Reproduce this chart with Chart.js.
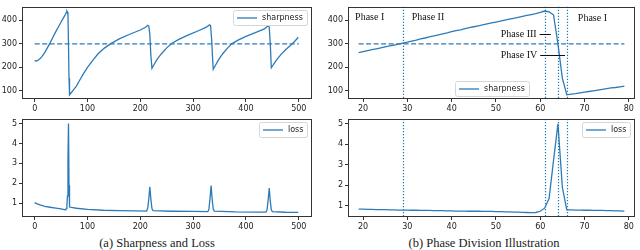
<!DOCTYPE html>
<html>
<head>
<meta charset="utf-8">
<script src="https://cdn.jsdelivr.net/npm/chart.js@4.4.0/dist/chart.umd.min.js"></script>
<style>
  body { margin: 0; background: #fff; width: 640px; height: 250px; position: relative; overflow: hidden; }
  canvas { position: absolute; }
  .cap { position: absolute; top: 236px; font-family: "Liberation Serif", serif; font-size: 12.5px; color: #222; white-space: nowrap; transform: translateX(-50%); }
</style>
</head>
<body>
<canvas id="sharpAll" width="320" height="112" style="left:0;top:0"></canvas>
<canvas id="sharpZoom" width="320" height="112" style="left:320px;top:0"></canvas>
<canvas id="lossAll" width="320" height="118" style="left:0;top:112px"></canvas>
<canvas id="lossZoom" width="320" height="118" style="left:320px;top:112px"></canvas>
<div class="cap" style="left:157px">(a) Sharpness and Loss</div>
<div class="cap" style="left:484px">(b) Phase Division Illustration</div>
<script>
// full run (left column)
const stepsSharp = [0, 3, 6, 10, 14, 19, 24, 29, 35, 40, 45, 50, 55, 58, 60, 61, 62, 63, 64, 65, 66, 72, 79, 86, 93, 100, 110, 120, 132, 145, 160, 180, 200, 210, 214, 216, 218, 220, 222, 226, 232, 240, 250, 260, 272, 290, 310, 325, 331, 333, 335, 337, 338, 342, 348, 356, 365, 373, 385, 400, 420, 435, 442, 444, 446, 448, 452, 458, 466, 475, 485, 492, 499];
const sharpness = [228, 227, 229, 236, 247, 263, 283, 303, 330, 352, 373, 393, 413, 425, 434, 440, 436, 424, 300, 153, 83, 100, 120, 148, 175, 200, 230, 258, 282, 302, 321, 341, 359, 371, 379, 376, 340, 250, 196, 212, 235, 258, 283, 303, 318, 337, 356, 371, 381, 378, 320, 230, 192, 208, 232, 258, 282, 300, 316, 332, 350, 364, 377, 372, 300, 198, 212, 232, 254, 275, 295, 310, 328];

const stepsLoss = [0, 5, 10, 15, 19, 29, 40, 50, 58, 59, 60, 61, 62, 63, 64, 65, 66, 79, 100, 130, 160, 190, 212, 214, 216, 218, 220, 222, 224, 260, 300, 328, 330, 332, 334, 336, 338, 340, 380, 420, 438, 440, 442, 444, 446, 448, 450, 475, 499];
const loss = [1.02, 0.96, 0.91, 0.87, 0.83, 0.79, 0.75, 0.71, 0.66, 0.67, 0.73, 0.88, 1.35, 3.2, 5.0, 1.9, 0.80, 0.74, 0.68, 0.64, 0.62, 0.61, 0.60, 0.75, 1.2, 1.82, 1.2, 0.72, 0.62, 0.59, 0.58, 0.57, 0.72, 1.25, 1.88, 1.2, 0.70, 0.60, 0.56, 0.55, 0.55, 0.68, 1.15, 1.75, 1.1, 0.66, 0.57, 0.54, 0.53];

// zoomed window (right column)
const stepsZoom = [19, 20, 21, 22, 23, 24, 25, 26, 27, 28, 29, 30, 31, 32, 33, 34, 35, 36, 37, 38, 39, 40, 41, 42, 43, 44, 45, 46, 47, 48, 49, 50, 51, 52, 53, 54, 55, 56, 57, 58, 59, 60, 61, 62, 63, 64, 65, 66, 67, 68, 69, 70, 71, 72, 73, 74, 75, 76, 77, 78, 79];
const sharpnessZoom = [263, 267, 271, 275, 279, 283, 287, 291, 295, 299, 303, 307, 312, 316, 321, 325, 330, 334, 338, 343, 347, 352, 356, 360, 365, 369, 373, 377, 381, 385, 389, 393, 397, 401, 405, 409, 413, 417, 421, 425, 429, 434, 440, 436, 424, 300, 153, 83, 86, 88, 91, 94, 97, 100, 103, 106, 109, 112, 114, 117, 120];
const lossZoom = [0.83, 0.83, 0.82, 0.82, 0.81, 0.81, 0.81, 0.80, 0.80, 0.79, 0.79, 0.79, 0.78, 0.78, 0.77, 0.77, 0.77, 0.76, 0.76, 0.76, 0.75, 0.75, 0.74, 0.74, 0.74, 0.73, 0.73, 0.73, 0.72, 0.72, 0.72, 0.71, 0.71, 0.70, 0.70, 0.69, 0.69, 0.68, 0.67, 0.66, 0.67, 0.73, 0.88, 1.35, 3.2, 5.0, 1.9, 0.80, 0.80, 0.79, 0.79, 0.78, 0.78, 0.77, 0.77, 0.77, 0.76, 0.76, 0.75, 0.75, 0.74];

const threshold = 300;
const phaseBounds = [29, 61, 64, 66];

const ticksStepAll = [0, 100, 200, 300, 400, 500];
const ticksStepZoom = [20, 30, 40, 50, 60, 70, 80];
const ticksSharp = [100, 200, 300, 400];
const ticksLoss = [1, 2, 3, 4, 5];

const phaseNotes = [
  { text: 'Phase I', x: 18.2, y: 413 },
  { text: 'Phase II', x: 31, y: 413 },
  { text: 'Phase I', x: 68.5, y: 409 },
  { text: 'Phase III', x: 51.1, y: 340, lineTo: 62.4 },
  { text: 'Phase IV', x: 51.1, y: 251, lineTo: 65.6 }
];

const blue = '#2c7bb9';
const zip = (xs, ys) => xs.map((x, i) => ({ x: x, y: ys[i] }));

const frame = {
  id: 'frame',
  afterDraw(chart) {
    const a = chart.chartArea, ctx = chart.ctx;
    ctx.save();
    ctx.strokeStyle = '#333';
    ctx.lineWidth = 1;
    ctx.strokeRect(Math.round(a.left) + 0.5, Math.round(a.top) + 0.5, Math.round(a.right - a.left) - 1, Math.round(a.bottom - a.top) - 1);
    ctx.restore();
  }
};

const phaseLines = {
  id: 'phaseLines',
  afterDatasetsDraw(chart, args, opts) {
    if (!opts.values) return;
    const a = chart.chartArea, ctx = chart.ctx, xs = chart.scales.x;
    ctx.save();
    ctx.strokeStyle = '#1f77b4';
    ctx.lineWidth = 1.2;
    ctx.setLineDash([1.2, 1.8]);
    opts.values.forEach(v => {
      const px = Math.round(xs.getPixelForValue(v)) + 0.5;
      ctx.beginPath();
      ctx.moveTo(px, a.top);
      ctx.lineTo(px, a.bottom);
      ctx.stroke();
    });
    ctx.restore();
  }
};

const notes = {
  id: 'notes',
  afterDatasetsDraw(chart, args, opts) {
    if (!opts.items) return;
    const ctx = chart.ctx, xs = chart.scales.x, ys = chart.scales.y;
    ctx.save();
    ctx.font = '10px "Liberation Serif"';
    ctx.fillStyle = '#111';
    ctx.strokeStyle = '#111';
    ctx.lineWidth = 1;
    ctx.textBaseline = 'middle';
    opts.items.forEach(n => {
      const px = xs.getPixelForValue(n.x), py = ys.getPixelForValue(n.y);
      ctx.fillText(n.text, px, py);
      if (n.lineTo) {
        const w = ctx.measureText(n.text).width;
        const yy = Math.round(py) + 0.5;
        ctx.beginPath();
        ctx.moveTo(px + w + 3, yy);
        ctx.lineTo(xs.getPixelForValue(n.lineTo), yy);
        ctx.stroke();
      }
    });
    ctx.restore();
  }
};

const boxLegend = {
  id: 'boxLegend',
  afterDraw(chart, args, opts) {
    const ds = chart.data.datasets.find(d => d.label);
    if (!ds) return;
    const a = chart.chartArea, ctx = chart.ctx;
    ctx.save();
    ctx.font = '8px "DejaVu Sans"';
    const tw = ctx.measureText(ds.label).width;
    const w = Math.round(4 + 20 + 5 + tw + 4), h = 15;
    let x, y;
    if (opts.loc === 'lower center') {
      x = Math.round((a.left + a.right - w) / 2);
      y = Math.round(a.bottom - 3 - h);
    } else {
      x = Math.round(a.right - 5 - w);
      y = Math.round(a.top + 3);
    }
    ctx.beginPath();
    ctx.roundRect(x + 0.5, y + 0.5, w, h, 2);
    ctx.fillStyle = 'rgba(255,255,255,0.85)';
    ctx.fill();
    ctx.strokeStyle = '#d6d6d6';
    ctx.lineWidth = 1;
    ctx.stroke();
    const my = y + h / 2 + 0.5;
    ctx.strokeStyle = ds.borderColor;
    ctx.lineWidth = ds.borderWidth;
    ctx.beginPath();
    ctx.moveTo(x + 4, my);
    ctx.lineTo(x + 24, my);
    ctx.stroke();
    ctx.fillStyle = '#222';
    ctx.textBaseline = 'middle';
    ctx.fillText(ds.label, x + 29, my);
    ctx.restore();
  }
};

function axis(min, max, tickVals, size, isY) {
  return {
    type: 'linear',
    min: min,
    max: max,
    afterBuildTicks: s => { s.ticks = tickVals.map(v => ({ value: v })); },
    afterFit: s => { if (isY) s.width = size; else s.height = size; },
    grid: { drawOnChartArea: false, drawTicks: true, tickLength: 3, color: '#333' },
    border: { display: false },
    ticks: { font: { family: 'DejaVu Sans', size: 8 }, color: '#222', padding: 2, maxRotation: 0, autoSkip: false }
  };
}

function makeChart(id, datasets, xAxis, yAxis, padding, extra) {
  new Chart(document.getElementById(id), {
    type: 'line',
    data: { datasets: datasets },
    options: {
      responsive: false,
      animation: false,
      events: [],
      layout: { padding: padding },
      elements: { point: { radius: 0 }, line: { tension: 0 } },
      scales: { x: xAxis, y: yAxis },
      plugins: Object.assign({ legend: { display: false }, tooltip: { enabled: false } }, extra)
    },
    plugins: [frame, phaseLines, notes, boxLegend]
  });
}

const lineStyle = { borderColor: blue, borderWidth: 1.3, fill: false };

makeChart('sharpAll', [
  Object.assign({ label: 'sharpness', data: zip(stepsSharp, sharpness) }, lineStyle),
  Object.assign({ data: [{ x: 0, y: threshold }, { x: 500, y: threshold }], borderDash: [5, 2.5] }, lineStyle)
], axis(-24, 525, ticksStepAll, 13, false), axis(65, 458, ticksSharp, 22, true),
  { top: 2, right: 8, left: 0, bottom: 0 }, { boxLegend: { loc: 'upper right' } });

makeChart('lossAll', [
  Object.assign({ label: 'loss', data: zip(stepsLoss, loss) }, lineStyle)
], axis(-24, 525, ticksStepAll, 13, false), axis(0.3, 5.23, ticksLoss, 22, true),
  { top: 7, right: 8, left: 0, bottom: 0 }, { boxLegend: { loc: 'upper right' } });

makeChart('sharpZoom', [
  Object.assign({ label: 'sharpness', data: zip(stepsZoom, sharpnessZoom) }, lineStyle),
  Object.assign({ data: [{ x: 19, y: threshold }, { x: 79, y: threshold }], borderDash: [5, 2.5] }, lineStyle)
], axis(16.6, 81.4, ticksStepZoom, 13, false), axis(65, 458, ticksSharp, 28, true),
  { top: 2, right: 5, left: 0, bottom: 0 },
  { boxLegend: { loc: 'lower center' }, phaseLines: { values: phaseBounds }, notes: { items: phaseNotes } });

makeChart('lossZoom', [
  Object.assign({ label: 'loss', data: zip(stepsZoom, lossZoom) }, lineStyle)
], axis(16.6, 81.4, ticksStepZoom, 13, false), axis(0.45, 5.23, ticksLoss, 28, true),
  { top: 7, right: 5, left: 0, bottom: 0 },
  { boxLegend: { loc: 'upper right' }, phaseLines: { values: phaseBounds } });
</script>
</body>
</html>
